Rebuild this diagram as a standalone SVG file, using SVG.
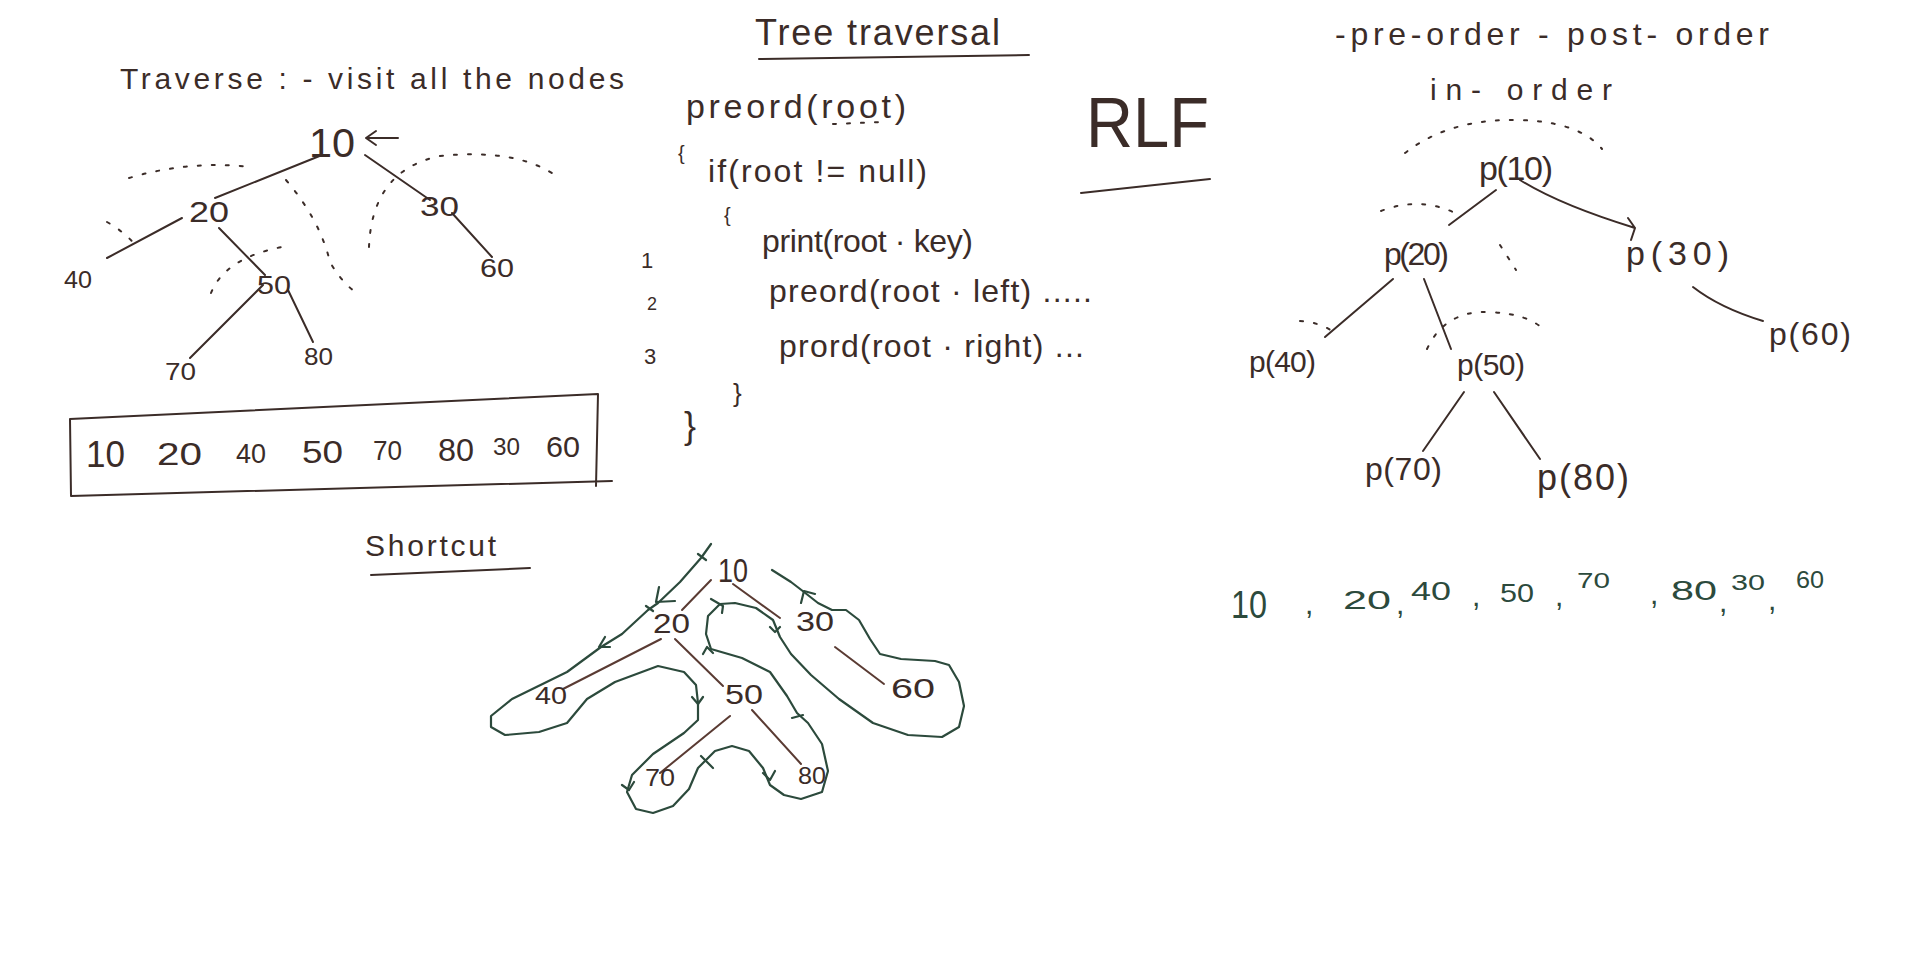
<svg xmlns="http://www.w3.org/2000/svg" width="1920" height="964" viewBox="0 0 1920 964">
<style>
.t{font-family:"Liberation Sans",Arial,sans-serif;fill:#3b2c28}
.gt{font-family:"Liberation Sans",Arial,sans-serif;fill:#2c4a3c}
.e{stroke:#3b2c28;stroke-width:2;fill:none;stroke-linecap:round;stroke-linejoin:round}
.be{stroke:#5a3b33;stroke-width:2;fill:none;stroke-linecap:round}
.ge{stroke:#2c4a3c;stroke-width:2.2;fill:none;stroke-linecap:round;stroke-linejoin:round}
.d{stroke:#3b2c28;stroke-width:2;fill:none;stroke-dasharray:3 11;stroke-linecap:round}
</style>
<rect width="1920" height="964" fill="#ffffff"/>

<!-- LEFT: traverse -->
<g id="title-left"><text class="t" x="120" y="89" font-size="30" textLength="504" lengthAdjust="spacing">Traverse : - visit all the nodes</text></g>
<g id="connectors-left">
<path class="e" d="M322 155 L215 198"/>
<path class="e" d="M182 218 L107 258"/>
<path class="e" d="M219 228 L265 275"/>
<path class="e" d="M365 155 L430 200"/>
<path class="e" d="M452 213 L492 257"/>
<path class="e" d="M263 285 L190 358"/>
<path class="e" d="M288 290 L313 342"/>
<path class="e" d="M398 138 L366 138 M376 131 L366 138 L376 145"/>
<path class="d" d="M129 178 Q190 160 251 167"/>
<path class="d" d="M286 180 Q320 220 330 262 Q340 280 355 292"/>
<path class="d" d="M369 247 Q372 170 440 156 Q520 148 559 178"/>
<path class="d" d="M107 222 Q125 232 138 248"/>
<path class="d" d="M211 293 Q225 258 282 247"/>
</g>
<g id="l10"><text class="t" x="309" y="157" font-size="40" textLength="46" lengthAdjust="spacingAndGlyphs">10</text></g>
<g id="l20"><text class="t" x="189" y="222" font-size="30" textLength="40" lengthAdjust="spacingAndGlyphs">20</text></g>
<g id="l30"><text class="t" x="420" y="216" font-size="28" textLength="39" lengthAdjust="spacingAndGlyphs">30</text></g>
<g id="l40"><text class="t" x="64" y="288" font-size="24" textLength="28" lengthAdjust="spacingAndGlyphs">40</text></g>
<g id="l60"><text class="t" x="480" y="277" font-size="26" textLength="34" lengthAdjust="spacingAndGlyphs">60</text></g>
<g id="l50"><text class="t" x="257" y="294" font-size="26" textLength="34" lengthAdjust="spacingAndGlyphs">50</text></g>
<g id="l70"><text class="t" x="165" y="380" font-size="24" textLength="31" lengthAdjust="spacingAndGlyphs">70</text></g>
<g id="l80"><text class="t" x="304" y="365" font-size="24" textLength="29" lengthAdjust="spacingAndGlyphs">80</text></g>

<g id="result-box">
<path class="e" d="M70 419 L598 394 L596 486 M71 496 L612 481 M70 419 L71 496"/>
<text class="t" x="86" y="467" font-size="36" textLength="39" lengthAdjust="spacingAndGlyphs">10</text>
<text class="t" x="157" y="465" font-size="32" textLength="45" lengthAdjust="spacingAndGlyphs">20</text>
<text class="t" x="236" y="463" font-size="28" textLength="30" lengthAdjust="spacingAndGlyphs">40</text>
<text class="t" x="302" y="463" font-size="32" textLength="41" lengthAdjust="spacingAndGlyphs">50</text>
<text class="t" x="373" y="460" font-size="28" textLength="29" lengthAdjust="spacingAndGlyphs">70</text>
<text class="t" x="438" y="461" font-size="32" textLength="36" lengthAdjust="spacingAndGlyphs">80</text>
<text class="t" x="493" y="455" font-size="24" textLength="27" lengthAdjust="spacingAndGlyphs">30</text>
<text class="t" x="546" y="457" font-size="30" textLength="34" lengthAdjust="spacingAndGlyphs">60</text>
</g>

<g id="shortcut-title">
<text class="t" x="365" y="556" font-size="30" textLength="131" lengthAdjust="spacing">Shortcut</text>
<path class="e" d="M371 575 L530 568"/>
</g>

<!-- MIDDLE: code -->
<g id="code">
<text class="t" x="755" y="45" font-size="36" textLength="245" lengthAdjust="spacing">Tree traversal</text>
<path class="e" d="M759 59 L1029 55"/>
<text class="t" x="686" y="118" font-size="34" textLength="220" lengthAdjust="spacing">preord(root)</text>
<path class="d" d="M833 124 L882 122"/>
<text class="t" x="678" y="160" font-size="20">{</text>
<text class="t" x="708" y="182" font-size="32" textLength="219" lengthAdjust="spacing">if(root != null)</text>
<text class="t" x="724" y="222" font-size="20">{</text>
<text class="t" x="641" y="268" font-size="22">1</text>
<text class="t" x="762" y="252" font-size="32" textLength="211" lengthAdjust="spacing">print(root · key)</text>
<text class="t" x="647" y="310" font-size="18">2</text>
<text class="t" x="769" y="302" font-size="32" textLength="323" lengthAdjust="spacing">preord(root · left) .....</text>
<text class="t" x="644" y="364" font-size="22">3</text>
<text class="t" x="779" y="357" font-size="32" textLength="305" lengthAdjust="spacing">prord(root · right) ...</text>
<text class="t" x="733" y="402" font-size="26">}</text>
<text class="t" x="684" y="438" font-size="36">}</text>
</g>

<g id="rlf">
<text class="t" x="1086" y="147" font-size="70" textLength="123" lengthAdjust="spacingAndGlyphs">RLF</text>
<path class="e" d="M1081 193 L1210 179"/>
</g>

<!-- RIGHT: recursion tree -->
<g id="title-right">
<text class="t" x="1335" y="45" font-size="32" textLength="434" lengthAdjust="spacing">-pre-order - post- order</text>
<text class="t" x="1430" y="100" font-size="30" textLength="182" lengthAdjust="spacing">in- order</text>
</g>
<g id="connectors-right">
<path class="e" d="M1496 190 L1449 225"/>
<path class="e" d="M1520 180 Q1560 205 1635 228 M1628 218 L1635 228 L1631 240"/>
<path class="e" d="M1393 279 L1325 337"/>
<path class="e" d="M1424 279 L1451 349"/>
<path class="e" d="M1693 287 Q1720 308 1763 321"/>
<path class="e" d="M1464 392 L1423 451"/>
<path class="e" d="M1494 392 Q1520 430 1540 459"/>
<path class="d" d="M1405 153 Q1450 118 1520 120 Q1580 122 1602 149"/>
<path class="d" d="M1381 211 Q1420 196 1455 213"/>
<path class="d" d="M1500 245 L1516 270"/>
<path class="d" d="M1300 321 Q1320 322 1335 333"/>
<path class="d" d="M1427 349 Q1445 310 1490 312 Q1530 314 1545 331"/>
</g>
<g id="p10"><text class="t" x="1479" y="180" font-size="34" textLength="74" lengthAdjust="spacing">p(10)</text></g>
<g id="p20"><text class="t" x="1384" y="265" font-size="32" textLength="65" lengthAdjust="spacing">p(20)</text></g>
<g id="p30"><text class="t" x="1626" y="265" font-size="34" textLength="103" lengthAdjust="spacing">p(30)</text></g>
<g id="p40"><text class="t" x="1249" y="372" font-size="30" textLength="67" lengthAdjust="spacing">p(40)</text></g>
<g id="p50"><text class="t" x="1457" y="375" font-size="30" textLength="68" lengthAdjust="spacing">p(50)</text></g>
<g id="p60"><text class="t" x="1769" y="345" font-size="32" textLength="82" lengthAdjust="spacing">p(60)</text></g>
<g id="p70"><text class="t" x="1365" y="480" font-size="32" textLength="77" lengthAdjust="spacing">p(70)</text></g>
<g id="p80"><text class="t" x="1537" y="490" font-size="36" textLength="92" lengthAdjust="spacing">p(80)</text></g>

<g id="sequence">
<text class="gt" x="1231" y="618" font-size="38" textLength="36" lengthAdjust="spacingAndGlyphs">10</text>
<text class="gt" x="1305" y="614" font-size="30">,</text>
<text class="gt" x="1343" y="609" font-size="26" textLength="48" lengthAdjust="spacingAndGlyphs">20</text>
<text class="gt" x="1396" y="614" font-size="30">,</text>
<text class="gt" x="1411" y="600" font-size="26" textLength="40" lengthAdjust="spacingAndGlyphs">40</text>
<text class="gt" x="1472" y="606" font-size="30">,</text>
<text class="gt" x="1500" y="602" font-size="26" textLength="34" lengthAdjust="spacingAndGlyphs">50</text>
<text class="gt" x="1555" y="606" font-size="30">,</text>
<text class="gt" x="1577" y="588" font-size="22" textLength="33" lengthAdjust="spacingAndGlyphs">70</text>
<text class="gt" x="1650" y="604" font-size="30">,</text>
<text class="gt" x="1671" y="600" font-size="28" textLength="46" lengthAdjust="spacingAndGlyphs">80</text>
<text class="gt" x="1719" y="612" font-size="30">,</text>
<text class="gt" x="1731" y="590" font-size="22" textLength="34" lengthAdjust="spacingAndGlyphs">30</text>
<text class="gt" x="1768" y="610" font-size="30">,</text>
<text class="gt" x="1796" y="588" font-size="24" textLength="28" lengthAdjust="spacingAndGlyphs">60</text>
</g>

<!-- BOTTOM: shortcut tree -->
<g id="connectors-shortcut">
<path class="be" d="M711 580 L682 610"/>
<path class="be" d="M733 584 L780 618"/>
<path class="be" d="M661 639 L563 689"/>
<path class="be" d="M675 639 L723 686"/>
<path class="be" d="M835 647 L884 684"/>
<path class="be" d="M730 716 L660 773"/>
<path class="be" d="M752 710 L801 764"/>
<polyline class="ge" points="711,544 701,558 680,582 658,603 648,610 622,634 601,647 567,672 512,699 491,716 491,727 505,735 539,732 567,723 587,699 615,682 658,666 684,672 696,685 698,703 698,720 684,733 653,754 632,775 627,792 636,809 653,813 673,806 689,789 698,768 715,751 732,746 749,751 763,768 770,785 784,795 801,799 822,792 828,771 822,744 808,723 797,713 787,696 770,672 742,658 711,649 706,634 708,616 720,604 735,603 756,608 773,620 780,637 791,654 811,675 839,699 873,723 908,735 942,737 959,727 964,706 959,682 949,665 935,661 901,659 880,654 870,639 859,620 846,610 832,610 818,603 804,592 791,582 772,570"/>
<path class="ge" d="M698 554 L706 560 M646 606 L653 611 M659 587 L656 602 L675 601 M605 637 L599 647 L610 647 M692 697 L698 704 L703 697 M622 785 L629 790 L634 782 M763 773 L770 780 L775 771 M792 718 L803 715 M703 654 L707 647 L713 653 M711 599 L723 606 L722 613 M770 627 L775 632 L780 627 M801 603 L804 591 L815 594 M701 756 L713 768"/>
</g>
<g id="s10"><text class="t" x="718" y="582" font-size="34" textLength="30" lengthAdjust="spacingAndGlyphs">10</text></g>
<g id="s20"><text class="t" x="653" y="633" font-size="28" textLength="37" lengthAdjust="spacingAndGlyphs">20</text></g>
<g id="s30"><text class="t" x="796" y="631" font-size="28" textLength="38" lengthAdjust="spacingAndGlyphs">30</text></g>
<g id="s40"><text class="t" x="535" y="704" font-size="24" textLength="32" lengthAdjust="spacingAndGlyphs">40</text></g>
<g id="s50"><text class="t" x="725" y="704" font-size="28" textLength="38" lengthAdjust="spacingAndGlyphs">50</text></g>
<g id="s60"><text class="t" x="891" y="698" font-size="28" textLength="44" lengthAdjust="spacingAndGlyphs">60</text></g>
<g id="s70"><text class="t" x="645" y="786" font-size="24" textLength="30" lengthAdjust="spacingAndGlyphs">70</text></g>
<g id="s80"><text class="t" x="798" y="784" font-size="24" textLength="28" lengthAdjust="spacingAndGlyphs">80</text></g>
</svg>
